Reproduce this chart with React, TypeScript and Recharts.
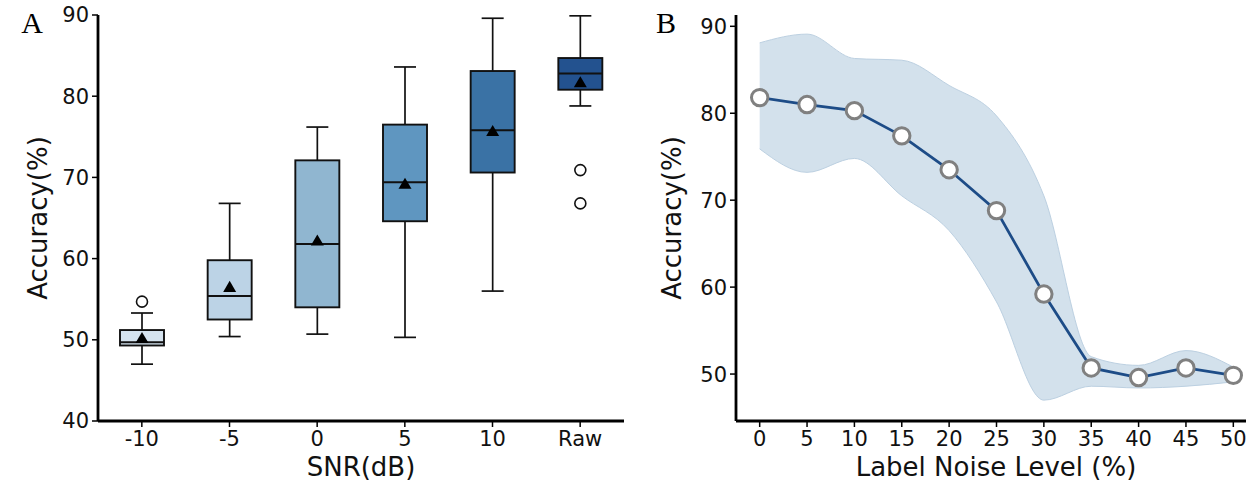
import React from 'react';
import { ComposedChart, Bar, XAxis, YAxis, Line, Area } from 'recharts';

// ---------- Panel A data (box plot) ----------
const snrCategories = ['-10', '-5', '0', '5', '10', 'Raw'];
const whiskerLow = [47.0, 50.4, 50.7, 50.3, 56.0, 78.8];
const quartile1 = [49.3, 52.5, 54.0, 64.6, 70.6, 80.8];
const medians = [49.7, 55.4, 61.8, 69.4, 75.8, 82.8];
const quartile3 = [51.2, 59.8, 72.1, 76.5, 83.1, 84.7];
const whiskerHigh = [53.3, 66.8, 76.2, 83.6, 89.6, 89.9];
const means = [50.2, 56.5, 62.2, 69.2, 75.7, 81.7];
const outliers: number[][] = [[54.7], [], [], [], [], [70.9, 66.8]];
const boxColors = ['#d5e3ef', '#bcd3e6', '#90b6d0', '#5f96c0', '#3a72a5', '#23528f'];
const yTicksA = [40, 50, 60, 70, 80, 90];

// ---------- Panel B data (line + band) ----------
const noiseLevels = [0, 5, 10, 15, 20, 25, 30, 35, 40, 45, 50];
const noiseAccuracy = [81.8, 81.0, 80.3, 77.4, 73.5, 68.8, 59.2, 50.7, 49.6, 50.7, 49.85];
const bandLower = [75.9, 73.2, 74.8, 70.5, 66.5, 58.3, 47.0, 48.6, 48.4, 48.6, 49.1];
const bandUpper = [88.1, 89.1, 86.3, 86.1, 83.2, 79.7, 70.5, 52.0, 51.0, 52.7, 50.8];
const yTicksB = [50, 60, 70, 80, 90];

const boxData = snrCategories.map((cat, i) => ({
  cat,
  low: whiskerLow[i],
  q1: quartile1[i],
  med: medians[i],
  q3: quartile3[i],
  high: whiskerHigh[i],
  mean: means[i],
  out: outliers[i],
  color: boxColors[i],
}));

const lineData = noiseLevels.map((x, i) => ({
  x,
  acc: noiseAccuracy[i],
  lower: bandLower[i],
  upper: bandUpper[i],
}));

const FONT = "'DejaVu Sans', sans-serif";
const tickStyle = { fill: '#111', fontSize: 21, fontFamily: FONT };
const axisLineStyle = { stroke: '#000', strokeWidth: 2.8 };
const tickLineStyle = { stroke: '#000', strokeWidth: 1.5 };

const BoxShape = (props: any) => {
  const { x, y, width, height, payload } = props;
  const top = Math.min(y, y + height);
  const h = Math.abs(height);
  const { low, high, q1, q3, med, mean, out, color } = payload;
  const py = (v: number) => top + (h * (high - v)) / (high - low);
  const cx = x + width / 2;
  const capHalf = width / 4;
  const yq1 = py(q1);
  const yq3 = py(q3);
  const ym = py(mean);
  const tri = 6.5;
  return (
    <g>
      <line x1={cx} x2={cx} y1={py(high)} y2={yq3} stroke="#111" strokeWidth={1.7} />
      <line x1={cx} x2={cx} y1={yq1} y2={py(low)} stroke="#111" strokeWidth={1.7} />
      <line x1={cx - capHalf} x2={cx + capHalf} y1={py(high)} y2={py(high)} stroke="#111" strokeWidth={1.7} />
      <line x1={cx - capHalf} x2={cx + capHalf} y1={py(low)} y2={py(low)} stroke="#111" strokeWidth={1.7} />
      <rect x={x} y={yq3} width={width} height={yq1 - yq3} fill={color} stroke="#111" strokeWidth={1.9} />
      <line x1={x} x2={x + width} y1={py(med)} y2={py(med)} stroke="#111" strokeWidth={1.9} />
      <polygon
        points={`${cx - tri},${ym + tri * 0.75} ${cx + tri},${ym + tri * 0.75} ${cx},${ym - tri * 0.95}`}
        fill="#000"
      />
      {out.map((v: number, k: number) => (
        <circle key={k} cx={cx} cy={py(v)} r={5.5} fill="#fff" stroke="#111" strokeWidth={1.6} />
      ))}
    </g>
  );
};

const Marker = (props: any) => {
  const { cx, cy, index } = props;
  return <circle key={`m${index}`} cx={cx} cy={cy} r={8.2} fill="#fff" stroke="#808080" strokeWidth={3} />;
};

export default function App() {
  return (
    <div
      style={{
        position: 'fixed',
        left: 0,
        top: 0,
        width: 1246,
        height: 492,
        overflow: 'hidden',
        background: '#fff',
      }}
    >
      <div style={{ position: 'absolute', left: 0, top: 0 }}>
        <ComposedChart
          width={640}
          height={492}
          data={boxData}
          margin={{ top: 15, right: 16, bottom: 0, left: 0 }}
          barCategoryGap={0}
        >
          <XAxis
            dataKey="cat"
            type="category"
            height={71}
            axisLine={axisLineStyle}
            tickLine={tickLineStyle}
            tickSize={6}
            tickMargin={4}
            tick={tickStyle}
            interval={0}
          />
          <YAxis
            type="number"
            domain={[40, 90]}
            ticks={yTicksA}
            width={98}
            axisLine={axisLineStyle}
            tickLine={tickLineStyle}
            tickSize={6}
            tickMargin={3}
            tick={tickStyle}
            allowDataOverflow
          />
          <Bar
            dataKey={(d: any) => [d.low, d.high]}
            barSize={44}
            shape={BoxShape}
            isAnimationActive={false}
          />
        </ComposedChart>
      </div>
      <div style={{ position: 'absolute', left: 640, top: 0 }}>
        <ComposedChart
          width={640}
          height={492}
          data={lineData}
          margin={{ top: 15, right: 23, bottom: 0, left: 0 }}
        >
          <XAxis
            dataKey="x"
            type="number"
            domain={[-2.5, 52.5]}
            ticks={noiseLevels}
            height={71}
            axisLine={axisLineStyle}
            tickLine={tickLineStyle}
            tickSize={6}
            tickMargin={4}
            tick={tickStyle}
            interval={0}
            allowDataOverflow
          />
          <YAxis
            type="number"
            domain={[44.6, 91.3]}
            ticks={yTicksB}
            width={96}
            axisLine={axisLineStyle}
            tickLine={tickLineStyle}
            tickSize={6}
            tickMargin={3}
            tick={tickStyle}
            allowDataOverflow
          />
          <Area
            dataKey={(d: any) => [d.lower, d.upper]}
            type="monotone"
            fill="#d3e1ec"
            fillOpacity={1}
            stroke="#bcd0e1"
            strokeWidth={1}
            isAnimationActive={false}
          />
          <Line
            dataKey="acc"
            type="linear"
            stroke="#1d4c87"
            strokeWidth={2.8}
            dot={Marker}
            activeDot={false}
            isAnimationActive={false}
          />
        </ComposedChart>
      </div>
      <svg
        width={1246}
        height={492}
        style={{ position: 'absolute', left: 0, top: 0, pointerEvents: 'none' }}
      >
        <text x={32} y={33} textAnchor="middle" fontFamily="'Liberation Serif', serif" fontSize={30} fill="#000">
          A
        </text>
        <text x={666} y={33} textAnchor="middle" fontFamily="'Liberation Serif', serif" fontSize={30} fill="#000">
          B
        </text>
        <text
          x={38}
          y={218}
          textAnchor="middle"
          dominantBaseline="central"
          transform="rotate(-90 38 218)"
          fontFamily={FONT}
          fontSize={26}
          fill="#111"
        >
          Accuracy(%)
        </text>
        <text
          x={672}
          y={218}
          textAnchor="middle"
          dominantBaseline="central"
          transform="rotate(-90 672 218)"
          fontFamily={FONT}
          fontSize={26}
          fill="#111"
        >
          Accuracy(%)
        </text>
        <text x={361} y={467} textAnchor="middle" dominantBaseline="central" fontFamily={FONT} fontSize={26} fill="#111">
          SNR(dB)
        </text>
        <text x={996} y={467} textAnchor="middle" dominantBaseline="central" fontFamily={FONT} fontSize={26} fill="#111">
          Label Noise Level (%)
        </text>
      </svg>
    </div>
  );
}
